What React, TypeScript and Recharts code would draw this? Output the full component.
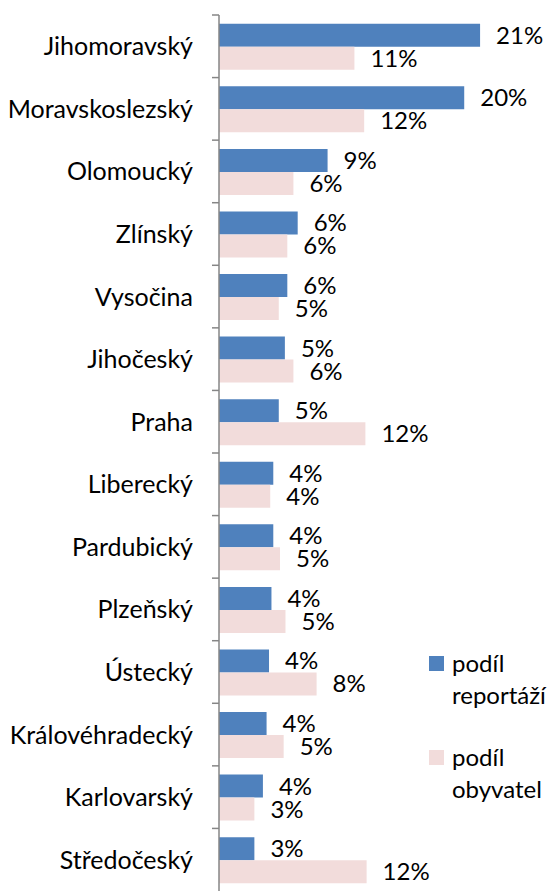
import React from 'react';
import { BarChart, Bar, XAxis, YAxis, LabelList } from 'recharts';

const regions = [
  'Jihomoravský', 'Moravskoslezský', 'Olomoucký', 'Zlínský', 'Vysočina', 'Jihočeský', 'Praha',
  'Liberecký', 'Pardubický', 'Plzeňský', 'Ústecký', 'Královéhradecký', 'Karlovarský', 'Středočeský',
];
const podilReportazi = [21.4, 20.1, 8.9, 6.45, 5.6, 5.4, 4.9, 4.45, 4.45, 4.3, 4.1, 3.9, 3.6, 2.9];
const podilObyvatel = [11.1, 11.9, 6.1, 5.6, 4.9, 6.1, 12.0, 4.2, 5.0, 5.45, 8.0, 5.3, 2.9, 12.1];
const seriesNames = ['podíl reportáží', 'podíl obyvatel'];
const seriesColors = ['#4F81BD', '#F2DCDB'];

const data = regions.map((r, i) => ({ region: r, a: podilReportazi[i], b: podilObyvatel[i] }));

const FONT = 'Lato, "Noto Sans", sans-serif';
const W = 551;
const H = 891;
const TOP = 15;
const BAND = (H - TOP) / regions.length;
const TICK_SIZE = 7;
const TICK_MARGIN = 19;

const CategoryTick = (props: any) => {
  const { x, y, payload } = props;
  const axisX = x + TICK_MARGIN + TICK_SIZE;
  const yb = y - BAND / 2;
  return (
    <g>
      <line x1={axisX - TICK_SIZE} x2={axisX} y1={yb} y2={yb} stroke="#868686" strokeWidth={1.5} />
      <text x={x} y={y} dy="0.36em" textAnchor="end" fill="#000" fontSize={25} fontFamily={FONT}>
        {payload.value}
      </text>
    </g>
  );
};

const LegendBox = () => (
  <div style={{ position: 'absolute', left: 429, top: 647, width: 125, fontFamily: FONT, fontSize: 24, color: '#000' }}>
    {seriesNames.map((n, i) => (
      <div key={n} style={{ display: 'flex', alignItems: 'flex-start', marginBottom: i === 0 ? 30 : 0 }}>
        <div style={{ width: 15, height: 15, background: seriesColors[i], marginTop: 8.5, marginRight: 8, flexShrink: 0 }} />
        <div style={{ width: 100, lineHeight: '32px' }}>{n}</div>
      </div>
    ))}
  </div>
);

export default function App() {
  return (
    <div style={{ position: 'absolute', left: 0, top: 0, width: W, height: H, background: '#fff' }}>
      <BarChart
        width={W}
        height={H}
        data={data}
        layout="vertical"
        margin={{ top: TOP, right: 27, bottom: 0, left: 0 }}
        barCategoryGap="14%"
        barGap={0}
      >
        <XAxis type="number" domain={[0, 25]} hide />
        <YAxis
          type="category"
          dataKey="region"
          width={219}
          axisLine={{ stroke: '#868686', strokeWidth: 1.5 }}
          tickLine={false}
          tickSize={TICK_SIZE}
          tickMargin={TICK_MARGIN}
          tick={<CategoryTick />}
          interval={0}
        />
        <Bar dataKey="a" name={seriesNames[0]} fill={seriesColors[0]} isAnimationActive={false}>
          <LabelList
            dataKey="a"
            position="right"
            offset={16}
            formatter={(v: any) => `${Math.round(v)}%`}
            style={{ fill: '#000', fontSize: 24, fontFamily: FONT }}
          />
        </Bar>
        <Bar dataKey="b" name={seriesNames[1]} fill={seriesColors[1]} isAnimationActive={false}>
          <LabelList
            dataKey="b"
            position="right"
            offset={16}
            formatter={(v: any) => `${Math.round(v)}%`}
            style={{ fill: '#000', fontSize: 24, fontFamily: FONT }}
          />
        </Bar>
      </BarChart>
      <LegendBox />
    </div>
  );
}
